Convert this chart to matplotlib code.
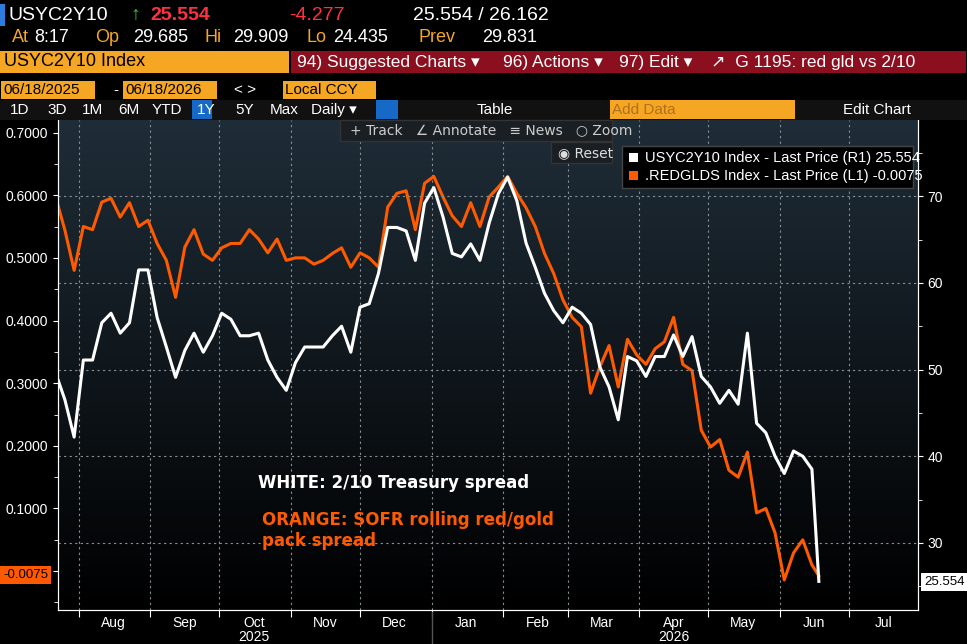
import numpy as np
import pandas as pd
import matplotlib
matplotlib.use("Agg")
import matplotlib.pyplot as plt
import matplotlib.dates as mdates
from matplotlib.patches import Rectangle

plt.rcParams["font.family"] = ["Liberation Sans", "DejaVu Sans"]

# data, one sample every 4 days
dates = pd.date_range("2025-07-22", periods=84, freq="4D")
usyc2y10 = [49.6, 46.5, 42.2, 51.1, 51.1, 55.4, 56.5, 54.2, 55.4, 61.5,
            61.5, 56.0, 52.6, 49.1, 52.2, 54.2, 52.0, 53.9, 56.5, 55.8,
            53.9, 53.9, 54.2, 51.1, 49.1, 47.6, 50.8, 52.6, 52.6, 52.6,
            53.9, 55.0, 52.0, 57.2, 57.6, 61.1, 66.4, 66.4, 66.0, 62.6,
            69.2, 71.0, 67.6, 63.4, 63.0, 64.5, 62.6, 66.9, 70.3, 72.2,
            69.5, 64.6, 61.8, 58.8, 56.8, 55.4, 57.2, 56.5, 55.2, 50.3,
            48.0, 44.2, 51.5, 51.0, 49.2, 51.5, 51.5, 54.0, 51.5, 53.8,
            49.2, 48.0, 46.1, 47.6, 46.0, 54.2, 43.8, 42.7, 40.0, 38.0,
            40.6, 40.0, 38.5, 25.554]
redglds = [0.597, 0.544, 0.480, 0.550, 0.545, 0.589, 0.595, 0.565, 0.588, 0.550,
           0.560, 0.523, 0.496, 0.437, 0.517, 0.545, 0.506, 0.496, 0.516, 0.523,
           0.523, 0.545, 0.530, 0.508, 0.530, 0.496, 0.500, 0.500, 0.490, 0.496,
           0.507, 0.516, 0.485, 0.508, 0.500, 0.485, 0.581, 0.603, 0.607, 0.545,
           0.619, 0.630, 0.597, 0.567, 0.550, 0.588, 0.550, 0.597, 0.613, 0.630,
           0.603, 0.580, 0.550, 0.507, 0.475, 0.433, 0.405, 0.390, 0.284, 0.326,
           0.360, 0.294, 0.370, 0.345, 0.330, 0.355, 0.366, 0.405, 0.330, 0.320,
           0.225, 0.198, 0.210, 0.161, 0.150, 0.190, 0.093, 0.100, 0.061, -0.014,
           0.029, 0.050, 0.010, -0.0075]
dates = dates[:-1].append(pd.DatetimeIndex(["2026-06-18"]))

W, H = 967, 644
ORANGE = "#ff5a00"
AMBER = "#f5a623"
fig = plt.figure(figsize=(W / 100, H / 100), dpi=100, facecolor="black")


def fx(x):
    return x / W


def fy(y):
    return 1 - y / H


def label(x, y, s, color="white", size=12, **kw):
    fig.text(fx(x), fy(y), s, color=color, fontsize=size, va="center", **kw)


def box(x0, y0, x1, y1, color, ec="none", z=0):
    fig.patches.append(Rectangle((fx(x0), fy(y1)), fx(x1 - x0), (y1 - y0) / H,
                                 transform=fig.transFigure, facecolor=color,
                                 edgecolor=ec, zorder=z))


# header
box(0, 4, 5, 26, "#2d7ddc")
label(9, 15, "USYC2Y10", size=14)
label(130, 15, "\u2191", color="#2ecc40", size=14)
label(150, 15, "25.554", color="#ff3040", size=14, fontweight="bold")
label(289, 15, "-4.277", color="#ff3040", size=14)
label(413, 15, "25.554 / 26.162", size=14)
for x, s, c in [(12, "At", AMBER), (34, "8:17", "white"), (95, "Op", AMBER),
                (133, "29.685", "white"), (205, "Hi", AMBER), (233, "29.909", "white"),
                (307, "Lo", AMBER), (333, "24.435", "white"), (418, "Prev", AMBER),
                (482, "29.831", "white")]:
    label(x, 38, s, color=c, size=13)
box(0, 51, 289, 73, AMBER)
label(4, 62, "USYC2Y10 Index", color="black", size=13)
box(291, 51, 966, 73, "#8b0f1e")
for x0, x1 in [(291, 494), (496, 610), (612, 698), (700, 966)]:
    box(x0, 51, x1, 73, "#8b0f1e")
for x, s in [(297, "94) Suggested Charts \u25be"), (503, "96) Actions \u25be"),
             (619, "97) Edit \u25be"), (711, "\u2197  G 1195: red gld vs 2/10")]:
    label(x, 62, s, size=12.5)
box(1, 81, 95, 99, AMBER)
label(3, 90, "06/18/2025", color="black", size=11)
label(113, 90, "-", size=11)
box(123, 81, 217, 99, AMBER)
label(125, 90, "06/18/2026", color="black", size=11)
label(234, 90, "< >", size=11)
box(283, 81, 376, 99, AMBER)
label(285, 90, "Local CCY", color="black", size=11)
box(0, 100, 967, 120, "#111111")
box(192, 100, 212, 119, "#1769c8")
for x, s in [(10, "1D"), (47, "3D"), (82, "1M"), (118, "6M"), (152, "YTD"), (197, "1Y"),
             (235, "5Y"), (270, "Max"), (311, "Daily \u25be"), (477, "Table"), (843, "Edit Chart")]:
    label(x, 110, s, size=11)
box(376, 100, 398, 119, "#1769c8")
box(610, 100, 795, 119, AMBER)
label(612, 110, "Add Data", color="#b07020", size=11)

# chart
ax = fig.add_axes([fx(58), 1 - 610 / H, fx(918 - 58), (610 - 120) / H])
ax.set_facecolor("black")
grad = np.linspace(0, 1, 256).reshape(-1, 1)
ax.imshow(grad, extent=[0, 1, 0, 1], transform=ax.transAxes, aspect="auto",
          cmap=matplotlib.colors.LinearSegmentedColormap.from_list("bg", ["#1f2d38", "#000000"]),
          zorder=-5)
ax2 = ax.twinx()

ax.plot(dates, redglds, color=ORANGE, lw=2.2, zorder=3)
ax2.plot(dates, usyc2y10, color="white", lw=2.2, zorder=3)

ax.set_xlim(pd.Timestamp("2025-07-23"), pd.Timestamp("2026-07-31"))
ax.set_ylim(-0.062, 0.72)
ax2.set_ylim(22.25, 78.8)
ax.set_yticks(np.arange(0.0, 0.71, 0.1))
ax.set_yticklabels([""] + [f"{v:.4f}" for v in np.arange(0.1, 0.71, 0.1)])
ax.set_yticks(np.arange(-0.05, 0.71, 0.05), minor=True)
ax2.set_yticks([30, 40, 50, 60, 70])
ax2.set_yticks(np.arange(25, 76, 5), minor=True)

ax.xaxis.set_major_locator(mdates.MonthLocator())
ax.xaxis.set_major_formatter(plt.NullFormatter())
ax.xaxis.set_minor_locator(mdates.MonthLocator(bymonthday=16))
ax.xaxis.set_minor_formatter(mdates.DateFormatter("%b"))
ax.tick_params(axis="x", which="minor", length=0, colors="white", labelsize=10, pad=4)
ax.tick_params(axis="x", which="major", length=5, color="white")
ax.tick_params(axis="y", which="both", colors="white", labelsize=10, direction="out")
ax.tick_params(axis="y", which="minor", length=3)
ax2.tick_params(axis="y", which="both", colors="white", labelsize=10)
ax2.tick_params(axis="y", which="minor", length=3)

ax2.grid(True, axis="y", color="#8a8f96", ls=(0, (2, 3)), lw=0.8)
ax.grid(True, axis="x", which="major", color="#8a8f96", ls=(0, (2, 3)), lw=0.8)
for a in (ax, ax2):
    a.spines["top"].set_visible(False)
    for s in ["left", "right", "bottom"]:
        a.spines[s].set_color("white")

tr = ax.get_xaxis_transform()
ax.text(pd.Timestamp("2025-10-16"), -0.055, "2025", transform=tr, color="white",
        fontsize=10, ha="center", va="center")
ax.text(pd.Timestamp("2026-04-16"), -0.055, "2026", transform=tr, color="white",
        fontsize=10, ha="center", va="center")
fig.add_artist(plt.Line2D([fx(432), fx(432)], [0, fy(612)], color="#555555", lw=1))

# notes
label(258, 483, "WHITE: 2/10 Treasury spread", size=12, fontweight="bold",
      family=["DejaVu Sans"])
label(262, 520, "ORANGE: SOFR rolling red/gold", color=ORANGE, size=12,
      fontweight="bold", family=["DejaVu Sans"])
label(262, 541, "pack spread", color=ORANGE, size=12, fontweight="bold",
      family=["DejaVu Sans"])

# last value tags
fig.text(fx(3), fy(575), "-0.0075", color="black", fontsize=9.5, va="center",
         bbox=dict(boxstyle="square,pad=0.25", fc=ORANGE, ec="none"))
fig.text(fx(924), fy(582), "25.554", color="black", fontsize=9.5, va="center",
         bbox=dict(boxstyle="square,pad=0.25", fc="white", ec="none"))

# legend box
box(622, 146, 913, 188, "black", ec="#444444", z=5)
box(629, 153, 638, 162, "white", z=6)
box(629, 171, 638, 180, ORANGE, z=6)
label(645, 158, "USYC2Y10 Index - Last Price (R1) 25.554", size=10.5, zorder=7)
label(645, 176, ".REDGLDS Index - Last Price (L1) -0.0075", size=10.5, zorder=7)

# toolbar on chart
box(340, 120, 612, 141, "#1a1f24", ec="#333333", z=5)
label(350, 130, "+ Track   \u2220 Annotate   \u2261 News   \u25cb Zoom", size=10,
      color="#cccccc", zorder=7, family=["DejaVu Sans"])
box(551, 142, 612, 163, "#1a1f24", ec="#333333", z=5)
label(558, 153, "\u25c9 Reset", size=10, color="#dddddd", zorder=7, family=["DejaVu Sans"])

fig.savefig("out.png", dpi=100, facecolor="black")
